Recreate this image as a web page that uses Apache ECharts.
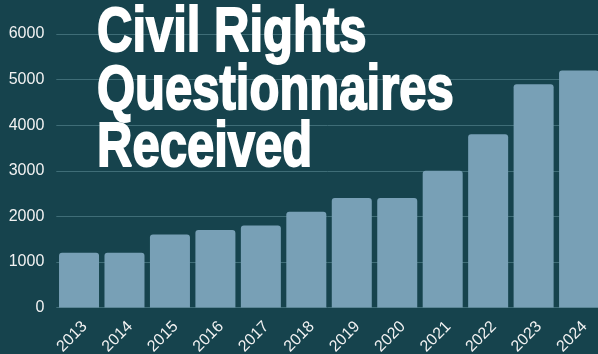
<!DOCTYPE html>
<html><head><meta charset="utf-8">
<script src="https://cdn.jsdelivr.net/npm/echarts@6/dist/echarts.min.js"></script>
<style>html,body{margin:0;padding:0;background:#16434d;}#c{width:598px;height:354px;}</style>
</head><body><div id="c"></div>
<script>
const years = ['2013','2014','2015','2016','2017','2018','2019','2020','2021','2022','2023','2024'];
const received = [1200,1200,1600,1700,1800,2100,2400,2400,3000,3800,4900,5200];
const titleLines = ['Civil Rights','Questionnaires','Received'];

const chart = echarts.init(document.getElementById('c'), null, {renderer:'canvas'});
chart.setOption({
  backgroundColor:'#16434d',
  animation:false,
  grid:{left:56.3, right:-3.8, top:34, bottom:46.5, containLabel:false, outerBoundsMode:'none'},
  xAxis:{type:'category', data:years,
    axisLine:{show:false}, axisTick:{show:false},
    axisLabel:{rotate:45, color:'#f2f2f2', fontSize:16, fontFamily:'Liberation Sans, Arial, sans-serif', margin:11, interval:0, verticalAlign:'top', hideOverlap:false}},
  yAxis:{type:'value', min:0, max:6000, interval:1000,
    axisLine:{show:false}, axisTick:{show:false},
    axisLabel:{color:'#f2f2f2', fontSize:16, fontFamily:'Liberation Sans, Arial, sans-serif', margin:12, formatter:v=>String(v)},
    splitLine:{lineStyle:{color:'#3f6d77', width:1}}},
  series:[{type:'bar', data:received, barCategoryGap:'12%',
    itemStyle:{color:'#78a0b6', borderRadius:[3,3,0,0]}}],
  graphic: titleLines.map((t,i)=>({
    type:'text', x:97, y:2+i*57.5, scaleY:1.3, z:100,
    style:{text:t, fill:'#ffffff', font:'bold 49px "Liberation Sans Narrow", "Arial Narrow", sans-serif',
      stroke:'#ffffff', lineWidth:1.5, verticalAlign:'top'}
  }))
});
</script></body></html>
